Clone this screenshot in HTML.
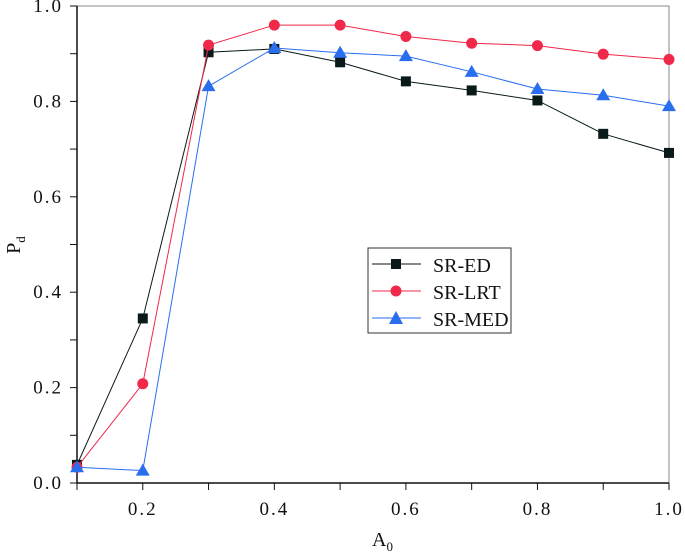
<!DOCTYPE html>
<html><head><meta charset="utf-8"><style>
body{margin:0;background:#fff;}
svg text{font-family:"Liberation Serif","Noto Serif CJK SC",serif;fill:#111;}
</style></head><body>
<svg id="chart" width="685" height="555" viewBox="0 0 685 555" xmlns="http://www.w3.org/2000/svg">
<rect x="77" y="6" width="592" height="477" fill="#fff" stroke="#888" stroke-width="1"/>
<g id="axes"></g>
<g id="series"></g>
<g>
<rect x="368" y="248" width="143" height="85" fill="#fff" stroke="#333" stroke-width="1"/>
<g>
<line x1="372" y1="264" x2="421" y2="264" stroke="#111" stroke-width="1"/><rect x="391" y="259" width="10" height="10" fill="#0a1a1a"/>
<text x="433" y="272" font-size="20">SR-ED</text></g>
<g>
<line x1="372" y1="291" x2="421" y2="291" stroke="#f0284a" stroke-width="1"/><circle cx="396" cy="291" r="5.5" fill="#f0284a"/>
<text x="433" y="299" font-size="20">SR-LRT</text></g>
<g>
<line x1="372" y1="318" x2="421" y2="318" stroke="#2a6ef0" stroke-width="1"/><path d="M396,311 L403,324 L389,324 Z" fill="#2a6ef0"/>
<text x="433" y="326" font-size="20">SR-MED</text></g>
</g>
<text x="372" y="546" font-size="20">A<tspan font-size="13" dy="5">0</tspan></text>
<text transform="translate(20,245) rotate(-90)" font-size="20" text-anchor="middle">P<tspan font-size="13" dy="5">d</tspan></text>
</svg>
<script>
const xs=[0.1,0.2,0.3,0.4,0.5,0.6,0.7,0.8,0.9,1.0];
const srED=[0.038,0.345,0.903,0.910,0.882,0.842,0.823,0.802,0.732,0.692];
const srLRT=[0.033,0.208,0.918,0.960,0.960,0.936,0.922,0.917,0.899,0.888];
const srMED=[0.033,0.026,0.832,0.912,0.902,0.895,0.862,0.826,0.813,0.790];
const xTicks=[0.2,0.4,0.6,0.8,1.0];
const yTicks=[0,0.2,0.4,0.6,0.8,1.0];
const NS="http://www.w3.org/2000/svg";
const X=v=>77+(v-0.1)/0.9*592;
const Y=v=>483-v*477;
const axes=document.getElementById('axes'),ser=document.getElementById('series');
function mk(tag,attrs,parent){const e=document.createElementNS(NS,tag);for(const k in attrs)e.setAttribute(k,attrs[k]);parent.appendChild(e);return e;}
let a=mk('line',{x1:77,y1:483,x2:669,y2:483,stroke:'#111','stroke-width':1.5},axes);


a=mk('line',{x1:77,y1:6,x2:77,y2:483,stroke:'#111','stroke-width':1.5},axes);


for(let v=0.1;v<=1.0001;v+=0.1){mk('line',{x1:X(v),y1:483,x2:X(v),y2:490,stroke:'#111','stroke-width':1},axes);}
for(let v=0;v<=1.0001;v+=0.1){mk('line',{x1:70,y1:Y(v),x2:77,y2:Y(v),stroke:'#111','stroke-width':1},axes);}
xTicks.forEach(v=>{const t=mk('text',{x:X(v),y:515,'font-size':19,'text-anchor':'middle','letter-spacing':'2'},axes);t.textContent=v.toFixed(1);

});
yTicks.forEach(v=>{const t=mk('text',{x:63,y:Y(v)+6,'font-size':19,'text-anchor':'end','letter-spacing':'2'},axes);t.textContent=v.toFixed(1);

});
function series(vals,color,shape,name){
 const g=mk('g',{},ser);
 
 
 mk('polyline',{points:vals.map((v,i)=>X(xs[i])+','+Y(v)).join(' '),fill:'none',stroke:color,'stroke-width':1},g);
 vals.forEach((v,i)=>{const x=X(xs[i]),y=Y(v);let m;
  if(shape==='sq')m=mk('rect',{x:x-5,y:y-5,width:10,height:10,fill:color},g);
  else if(shape==='ci')m=mk('circle',{cx:x,cy:y,r:5.5,fill:color},g);
  else m=mk('path',{d:`M${x},${y-7} L${x+7},${y+5} L${x-7},${y+5} Z`,fill:color},g);
  
  });
}
series(srED,'#0a1a1a','sq','series-sr-ed');
series(srLRT,'#f0284a','ci','series-sr-lrt');
series(srMED,'#2a6ef0','tr','series-sr-med');
</script>
</body></html>
